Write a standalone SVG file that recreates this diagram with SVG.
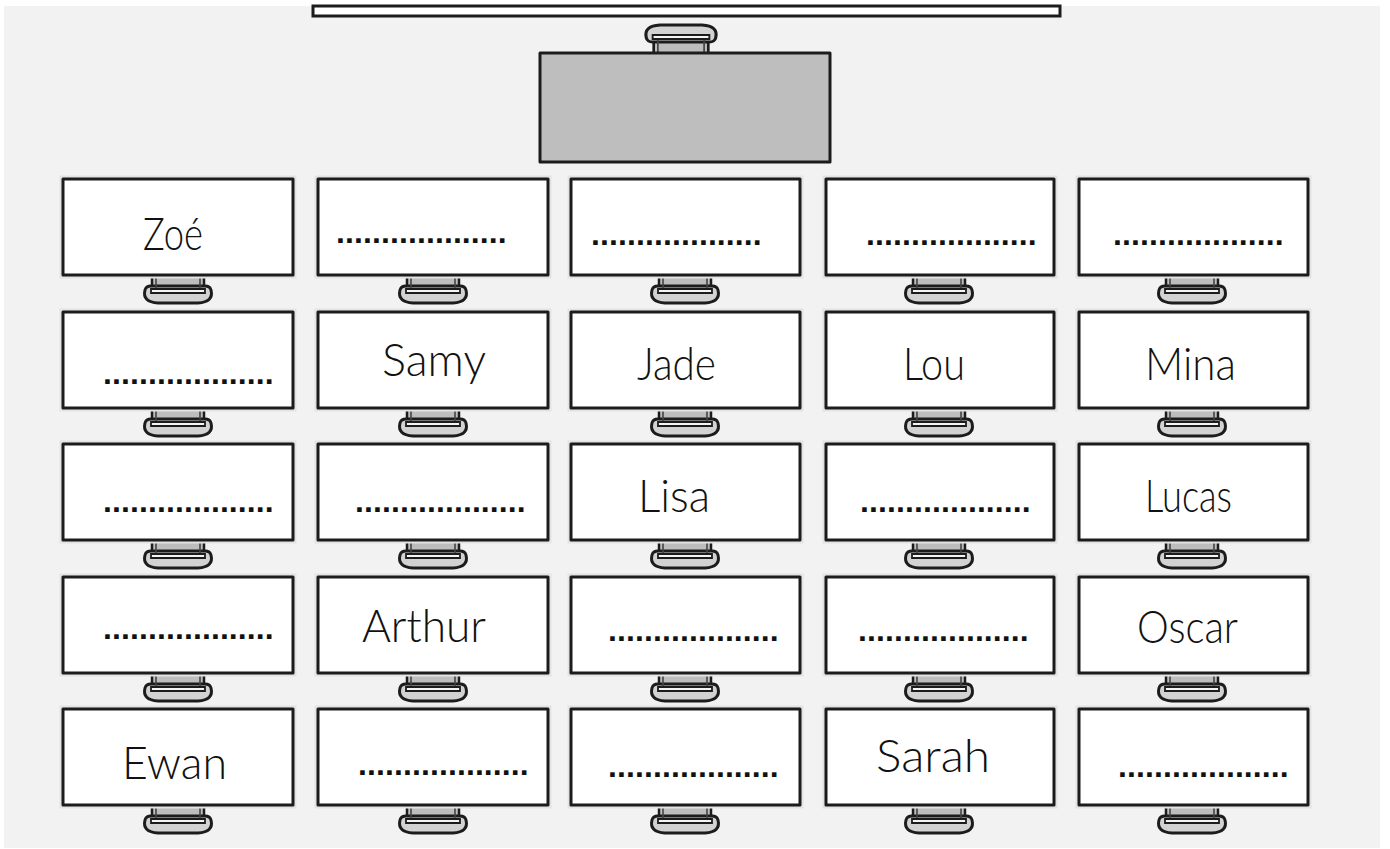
<svg xmlns="http://www.w3.org/2000/svg" xmlns:xlink="http://www.w3.org/1999/xlink" width="1390" height="849" viewBox="0 0 1390 849">
<style>
.desk{fill:#ffffff;stroke:#1c1c1c;stroke-width:3;stroke-linejoin:round}
.shadow{fill:none;stroke:#e3e3e3;stroke-width:7}
.name{font-family:Lato,"Liberation Sans",sans-serif;font-weight:300;font-size:46px;fill:#111}
.dots{font-family:"Liberation Sans",Arial,sans-serif;font-weight:bold;font-size:32px;letter-spacing:0.1px;fill:#111}
</style>
<defs>
<g id="chair">
<rect x="-26" y="-3" width="52" height="17" fill="#bdbdbd" stroke="#1c1c1c" stroke-width="2.5"/>
<path d="M-33 15 Q-36 27 -20 28 H20 Q36 27 33 15 Q32 11 27 11 H-27 Q-32 11 -33 15 Z" fill="#d2d2d2" stroke="#1c1c1c" stroke-width="3" stroke-linejoin="round"/>
<path d="M-27 14 H27 V18 H-27 Z" fill="#f4f4f4" stroke="#1c1c1c" stroke-width="1.8"/>
<path d="M-22 0 V13 M22 0 V13" stroke="#444" stroke-width="1.6" fill="none"/>
</g>
</defs>
<rect x="0" y="0" width="1390" height="849" fill="#ffffff"/>
<g id="room">
<rect x="4" y="6" width="1376" height="842" fill="#f2f2f2"/>
<rect id="board" x="313" y="6" width="747" height="10" fill="#ffffff" stroke="#1c1c1c" stroke-width="3"/>
</g>
<g id="teacher-desk">
<use xlink:href="#chair" href="#chair" transform="translate(681,53) scale(1.05,-1)"/>
<rect x="540" y="53" width="290" height="109" fill="#bebebe" stroke="#1c1c1c" stroke-width="3" stroke-linejoin="round"/>
</g>
<g id="desks">
<!-- row 1 -->
<g id="desk-r1c1"><use href="#chair" xlink:href="#chair" transform="translate(178,275)"/><rect class="shadow" x="63" y="179" width="230" height="96"/><rect class="desk" x="63" y="179" width="230" height="96"/><text class="name" x="143" y="250" textLength="60" lengthAdjust="spacingAndGlyphs">Zoé</text></g>
<g id="desk-r1c2"><use href="#chair" xlink:href="#chair" transform="translate(433,275)"/><rect class="shadow" x="318" y="179" width="230" height="96"/><rect class="desk" x="318" y="179" width="230" height="96"/><text class="dots" x="336" y="243">...................</text></g>
<g id="desk-r1c3"><use href="#chair" xlink:href="#chair" transform="translate(685,275)"/><rect class="shadow" x="571" y="179" width="229" height="96"/><rect class="desk" x="571" y="179" width="229" height="96"/><text class="dots" x="591" y="245">...................</text></g>
<g id="desk-r1c4"><use href="#chair" xlink:href="#chair" transform="translate(939,275)"/><rect class="shadow" x="826" y="179" width="228" height="96"/><rect class="desk" x="826" y="179" width="228" height="96"/><text class="dots" x="866" y="245">...................</text></g>
<g id="desk-r1c5"><use href="#chair" xlink:href="#chair" transform="translate(1192,275)"/><rect class="shadow" x="1079" y="179" width="229" height="96"/><rect class="desk" x="1079" y="179" width="229" height="96"/><text class="dots" x="1113" y="245">...................</text></g>
<!-- row 2 -->
<g id="desk-r2c1"><use href="#chair" xlink:href="#chair" transform="translate(178,408)"/><rect class="shadow" x="63" y="312" width="230" height="96"/><rect class="desk" x="63" y="312" width="230" height="96"/><text class="dots" x="103" y="384">...................</text></g>
<g id="desk-r2c2"><use href="#chair" xlink:href="#chair" transform="translate(433,408)"/><rect class="shadow" x="318" y="312" width="230" height="96"/><rect class="desk" x="318" y="312" width="230" height="96"/><text class="name" x="382" y="376" textLength="104" lengthAdjust="spacingAndGlyphs">Samy</text></g>
<g id="desk-r2c3"><use href="#chair" xlink:href="#chair" transform="translate(685,408)"/><rect class="shadow" x="571" y="312" width="229" height="96"/><rect class="desk" x="571" y="312" width="229" height="96"/><text class="name" x="637" y="380" textLength="79" lengthAdjust="spacingAndGlyphs">Jade</text></g>
<g id="desk-r2c4"><use href="#chair" xlink:href="#chair" transform="translate(939,408)"/><rect class="shadow" x="826" y="312" width="228" height="96"/><rect class="desk" x="826" y="312" width="228" height="96"/><text class="name" x="903" y="380" textLength="62" lengthAdjust="spacingAndGlyphs">Lou</text></g>
<g id="desk-r2c5"><use href="#chair" xlink:href="#chair" transform="translate(1192,408)"/><rect class="shadow" x="1079" y="312" width="229" height="96"/><rect class="desk" x="1079" y="312" width="229" height="96"/><text class="name" x="1145" y="380" textLength="91" lengthAdjust="spacingAndGlyphs">Mina</text></g>
<!-- row 3 -->
<g id="desk-r3c1"><use href="#chair" xlink:href="#chair" transform="translate(178,540)"/><rect class="shadow" x="63" y="444" width="230" height="96"/><rect class="desk" x="63" y="444" width="230" height="96"/><text class="dots" x="103" y="512">...................</text></g>
<g id="desk-r3c2"><use href="#chair" xlink:href="#chair" transform="translate(433,540)"/><rect class="shadow" x="318" y="444" width="230" height="96"/><rect class="desk" x="318" y="444" width="230" height="96"/><text class="dots" x="355" y="512">...................</text></g>
<g id="desk-r3c3"><use href="#chair" xlink:href="#chair" transform="translate(685,540)"/><rect class="shadow" x="571" y="444" width="229" height="96"/><rect class="desk" x="571" y="444" width="229" height="96"/><text class="name" x="638" y="512" textLength="72" lengthAdjust="spacingAndGlyphs">Lisa</text></g>
<g id="desk-r3c4"><use href="#chair" xlink:href="#chair" transform="translate(939,540)"/><rect class="shadow" x="826" y="444" width="228" height="96"/><rect class="desk" x="826" y="444" width="228" height="96"/><text class="dots" x="860" y="512">...................</text></g>
<g id="desk-r3c5"><use href="#chair" xlink:href="#chair" transform="translate(1192,540)"/><rect class="shadow" x="1079" y="444" width="229" height="96"/><rect class="desk" x="1079" y="444" width="229" height="96"/><text class="name" x="1145" y="512" textLength="87" lengthAdjust="spacingAndGlyphs">Lucas</text></g>
<!-- row 4 -->
<g id="desk-r4c1"><use href="#chair" xlink:href="#chair" transform="translate(178,673)"/><rect class="shadow" x="63" y="577" width="230" height="96"/><rect class="desk" x="63" y="577" width="230" height="96"/><text class="dots" x="103" y="639">...................</text></g>
<g id="desk-r4c2"><use href="#chair" xlink:href="#chair" transform="translate(433,673)"/><rect class="shadow" x="318" y="577" width="230" height="96"/><rect class="desk" x="318" y="577" width="230" height="96"/><text class="name" x="362" y="642" textLength="124" lengthAdjust="spacingAndGlyphs">Arthur</text></g>
<g id="desk-r4c3"><use href="#chair" xlink:href="#chair" transform="translate(685,673)"/><rect class="shadow" x="571" y="577" width="229" height="96"/><rect class="desk" x="571" y="577" width="229" height="96"/><text class="dots" x="608" y="641">...................</text></g>
<g id="desk-r4c4"><use href="#chair" xlink:href="#chair" transform="translate(939,673)"/><rect class="shadow" x="826" y="577" width="228" height="96"/><rect class="desk" x="826" y="577" width="228" height="96"/><text class="dots" x="858" y="641">...................</text></g>
<g id="desk-r4c5"><use href="#chair" xlink:href="#chair" transform="translate(1192,673)"/><rect class="shadow" x="1079" y="577" width="229" height="96"/><rect class="desk" x="1079" y="577" width="229" height="96"/><text class="name" x="1137" y="643" textLength="101" lengthAdjust="spacingAndGlyphs">Oscar</text></g>
<!-- row 5 -->
<g id="desk-r5c1"><use href="#chair" xlink:href="#chair" transform="translate(178,805)"/><rect class="shadow" x="63" y="709" width="230" height="96"/><rect class="desk" x="63" y="709" width="230" height="96"/><text class="name" x="122" y="779" textLength="105" lengthAdjust="spacingAndGlyphs">Ewan</text></g>
<g id="desk-r5c2"><use href="#chair" xlink:href="#chair" transform="translate(433,805)"/><rect class="shadow" x="318" y="709" width="230" height="96"/><rect class="desk" x="318" y="709" width="230" height="96"/><text class="dots" x="358" y="775">...................</text></g>
<g id="desk-r5c3"><use href="#chair" xlink:href="#chair" transform="translate(685,805)"/><rect class="shadow" x="571" y="709" width="229" height="96"/><rect class="desk" x="571" y="709" width="229" height="96"/><text class="dots" x="608" y="777">...................</text></g>
<g id="desk-r5c4"><use href="#chair" xlink:href="#chair" transform="translate(939,805)"/><rect class="shadow" x="826" y="709" width="228" height="96"/><rect class="desk" x="826" y="709" width="228" height="96"/><text class="name" x="876" y="772" textLength="114" lengthAdjust="spacingAndGlyphs">Sarah</text></g>
<g id="desk-r5c5"><use href="#chair" xlink:href="#chair" transform="translate(1192,805)"/><rect class="shadow" x="1079" y="709" width="229" height="96"/><rect class="desk" x="1079" y="709" width="229" height="96"/><text class="dots" x="1118" y="777">...................</text></g>
</g>
</svg>
